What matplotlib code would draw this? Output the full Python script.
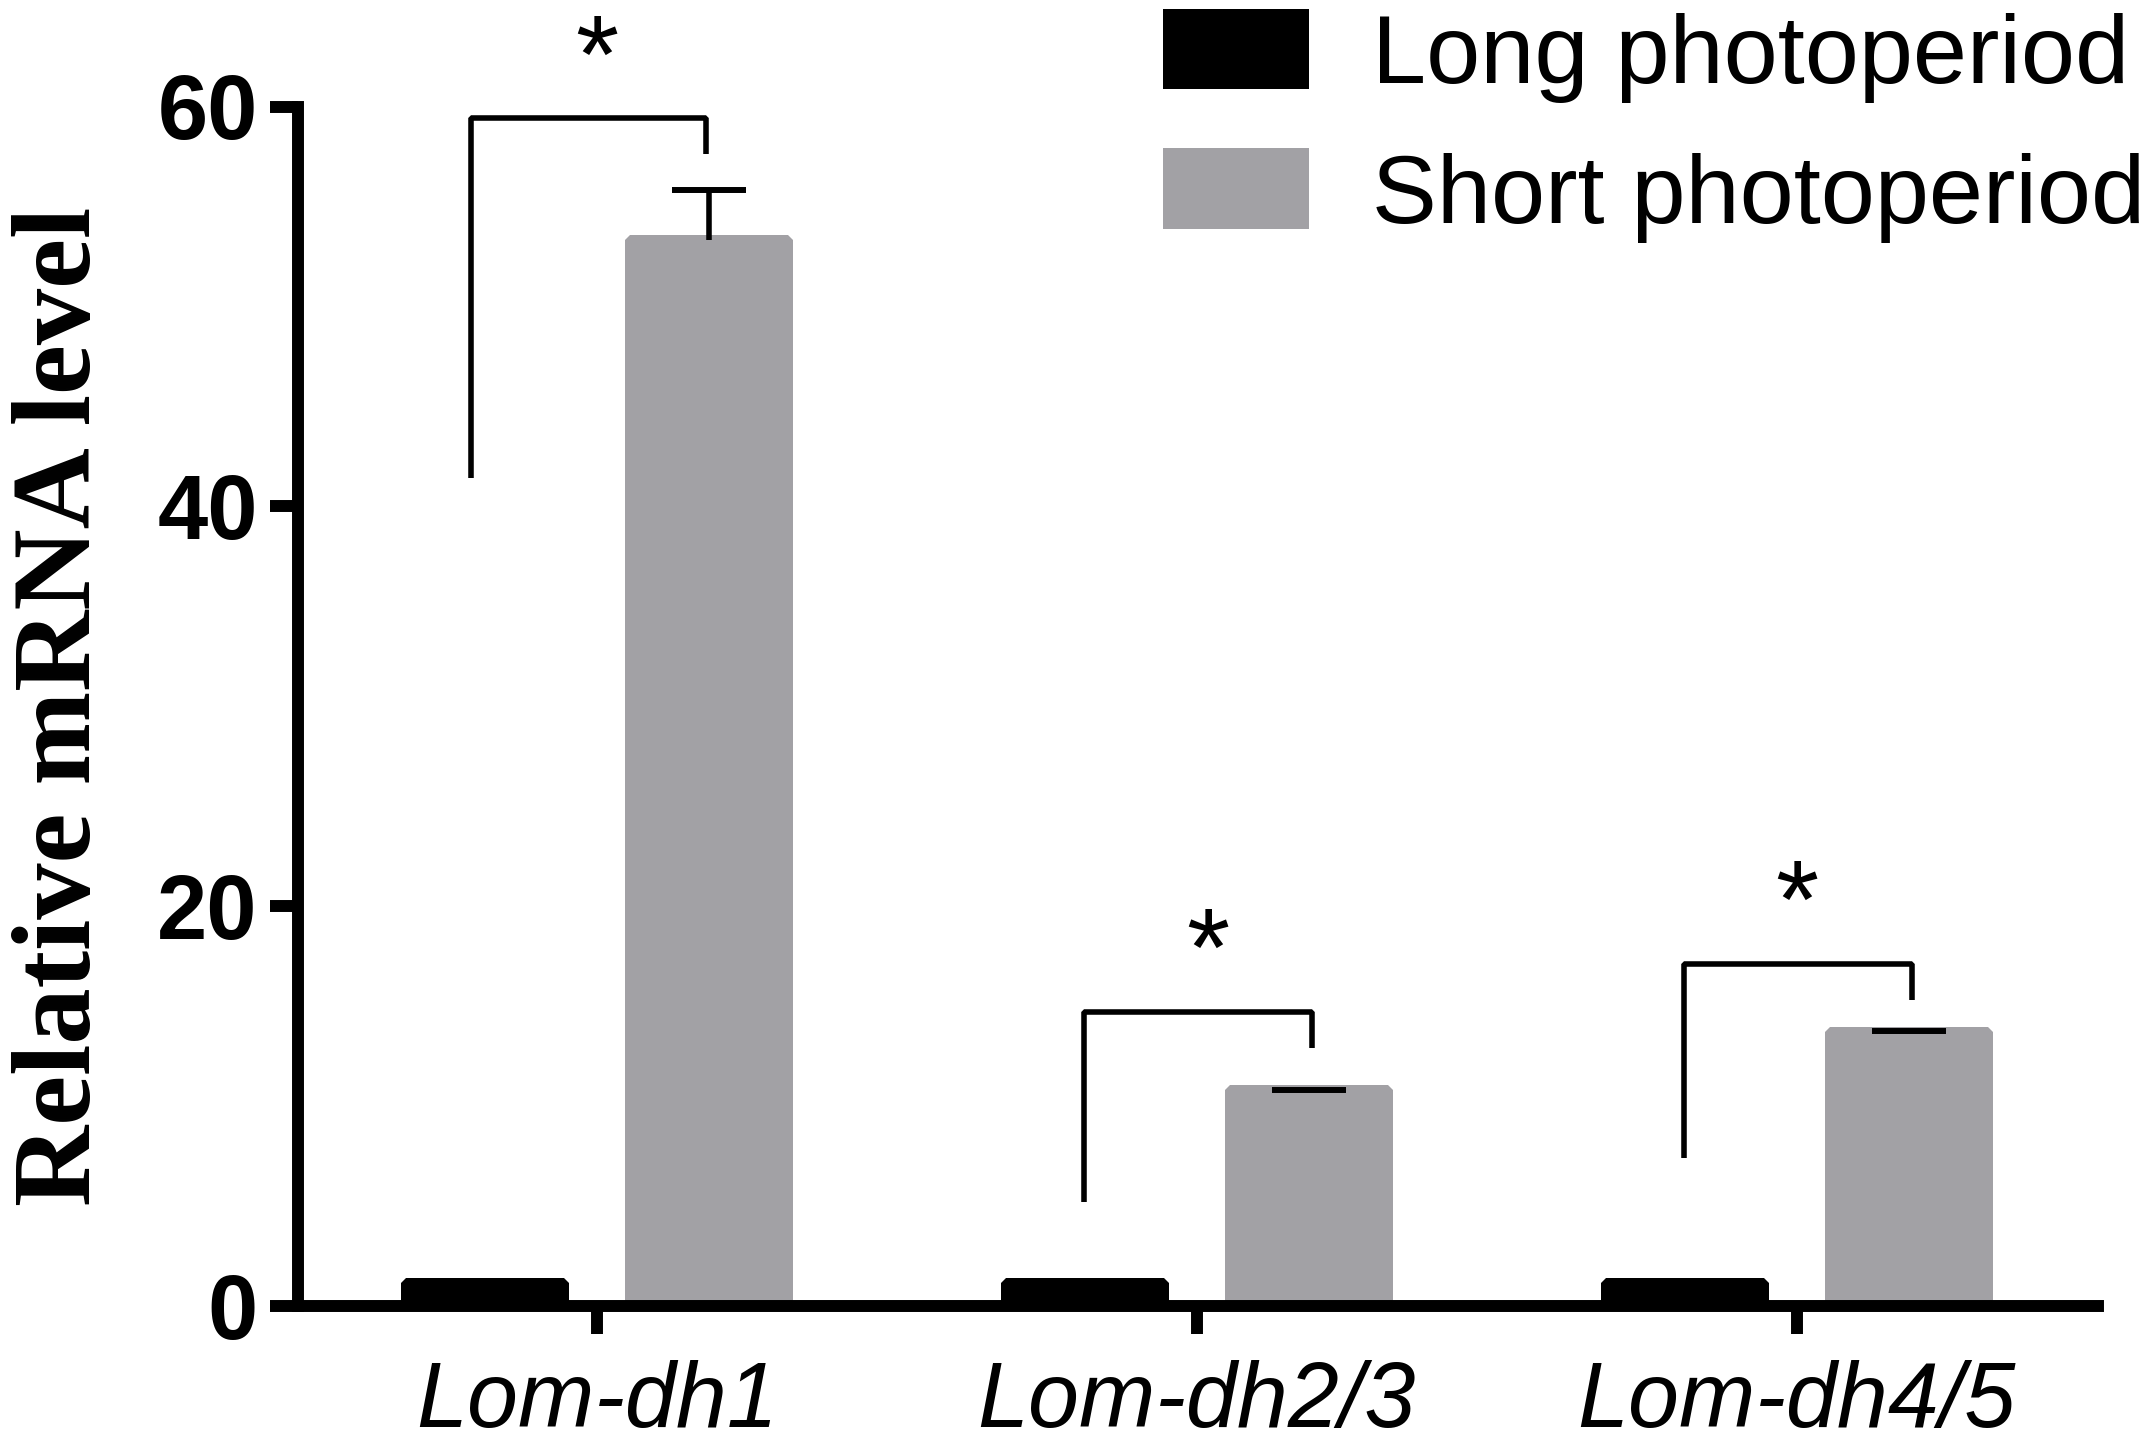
import matplotlib
matplotlib.use('Agg')
import matplotlib.pyplot as plt
from matplotlib.patches import Patch
import numpy as np

# data
genes = ['Lom-dh1', 'Lom-dh2/3', 'Lom-dh4/5']
long_mean = [1.15, 1.15, 1.15]
short_mean = [53.3, 10.8, 13.7]
short_sem = [2.5, 0.0, 0.05]

# significance brackets: left x offset, left bottom, top, right x offset, right bottom
br_left_x = [-0.209, -0.188, -0.188]
br_left_y = [41.4, 5.2, 7.4]
br_top_y = [59.4, 14.7, 17.1]
br_right_x = [0.182, 0.192, 0.192]
br_right_y = [57.6, 12.9, 15.3]
star_x = [0.0, 0.018, 0.0]
star_y = [60.7, 16.0, 18.4]

black = '#000000'
grey = '#a2a1a5'
sans = ['Liberation Sans', 'DejaVu Sans']
serif = ['Liberation Serif', 'DejaVu Serif']

fig = plt.figure(figsize=(21.56, 14.44), dpi=100)
ax = fig.add_axes([298 / 2156, 138 / 1444, 1800 / 2156, 1199.5 / 1444])

x = np.arange(len(genes))
offset = 0.187
width = 0.263
edge = 7.2

b1 = ax.bar(x - offset, long_mean, width, color=black, edgecolor=black, linewidth=edge)
b2 = ax.bar(x + offset, short_mean, width, color=grey, edgecolor=grey, linewidth=edge)
for p in list(b1) + list(b2):
    p.set_joinstyle('bevel')

# upper error bars only (no cap at the mean)
eb = ax.errorbar(x + offset, short_mean, yerr=[np.zeros(3), short_sem], fmt='none',
                 ecolor='black', elinewidth=4, capsize=26.6, capthick=4.3, zorder=3)
caps = eb[1]
if len(caps) == 2:
    caps[0].set_visible(False)

# brackets and stars
for i in range(3):
    ax.plot([x[i] + br_left_x[i], x[i] + br_left_x[i], x[i] + br_right_x[i], x[i] + br_right_x[i]],
            [br_left_y[i], br_top_y[i], br_top_y[i], br_right_y[i]],
            color='black', lw=4, solid_joinstyle='bevel', solid_capstyle='butt', clip_on=False, zorder=3)
    ax.text(x[i] + star_x[i], star_y[i], '*', ha='center', va='baseline',
            fontsize=80, family=sans, clip_on=False)

ax.set_xlim(-0.498, 2.502)
ax.set_ylim(0, 60)
ax.set_yticks([0, 20, 40, 60])
ax.set_xticks(x)
ax.set_xticklabels(genes, fontsize=66, family=sans, style='italic')
ax.set_yticklabels(['0', '20', '40', '60'], fontsize=65, family=sans, fontweight='bold')

for s in ['top', 'right']:
    ax.spines[s].set_visible(False)
for s in ['left', 'bottom']:
    ax.spines[s].set_linewidth(8.6)
ax.tick_params(axis='both', length=20, width=8.6)
ax.tick_params(axis='y', pad=9)
ax.tick_params(axis='x', pad=19)

ax.set_ylabel('Relative mRNA level', fontsize=81, family=serif, fontweight='bold')
ax.yaxis.set_label_coords(-0.1024, 0.5)

handles = [Patch(facecolor=black, edgecolor=black, linewidth=edge, joinstyle='bevel'),
           Patch(facecolor=grey, edgecolor=grey, linewidth=edge, joinstyle='bevel')]
ax.legend(handles, ['Long photoperiod', 'Short photoperiod'], loc='upper left',
          bbox_to_anchor=(1168 / 2156, 0.991), bbox_transform=fig.transFigure,
          frameon=False, prop={'family': sans, 'size': 70},
          handlelength=1.4, handleheight=0.74, handletextpad=0.7,
          labelspacing=0.51, borderpad=0, borderaxespad=0)

fig.savefig('out.png', dpi=100)
